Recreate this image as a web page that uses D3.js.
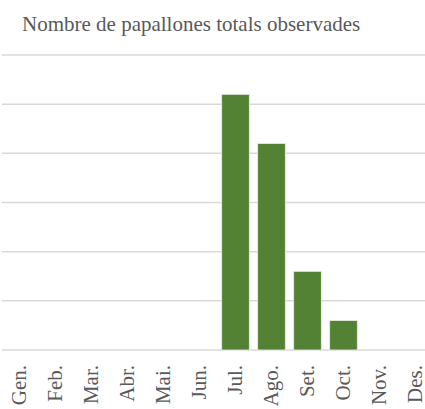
<!DOCTYPE html>
<html>
<head>
<meta charset="utf-8">
<script src="https://cdn.jsdelivr.net/npm/d3@7"></script>
</head>
<body style="margin:0;background:#fff">
<script>
const months = ["Gen.", "Feb.", "Mar.", "Abr.", "Mai.", "Jun.", "Jul.", "Ago.", "Set.", "Oct.", "Nov.", "Des."];
const values = [0, 0, 0, 0, 0, 0, 52, 42, 16, 6, 0, 0];
const yTicks = [0, 10, 20, 30, 40, 50, 60];
const title = "Nombre de papallones totals observades";

const W = 425, H = 409;
const svg = d3.select("body").append("svg").attr("width", W).attr("height", H).style("display", "block");

const x = d3.scaleBand().domain(months).range([1.5, 433.5]).paddingInner(0.233).paddingOuter(0.1165);
const y = d3.scaleLinear().domain([0, 60]).range([350, 55]);

svg.append("g").selectAll("line").data(yTicks).join("line")
  .attr("x1", 2).attr("x2", W)
  .attr("y1", d => y(d)).attr("y2", d => y(d))
  .attr("stroke", "#d9d9d9").attr("stroke-width", 1.5);

svg.append("g").selectAll("rect").data(months.map((m, i) => ({m, v: values[i]})).filter(d => d.v > 0)).join("rect")
  .attr("x", d => x(d.m)).attr("width", x.bandwidth())
  .attr("y", d => y(d.v)).attr("height", d => y(0) - y(d.v))
  .attr("fill", "#548235").attr("stroke", "#e8efe3").attr("stroke-width", 0.8);

svg.append("g").selectAll("text").data(months).join("text")
  .attr("transform", d => `translate(${x(d) + x.bandwidth() / 2 - 1},365) rotate(-90)`)
  .attr("text-anchor", "end").attr("dy", "0.35em")
  .style("font", "21px 'Liberation Serif', serif")
  .style("fill", "#595959")
  .text(d => d);

svg.append("text").attr("x", 22).attr("y", 31)
  .style("font", "21px 'Liberation Serif', serif")
  .style("fill", "#595959")
  .text(title);
</script>
</body>
</html>
